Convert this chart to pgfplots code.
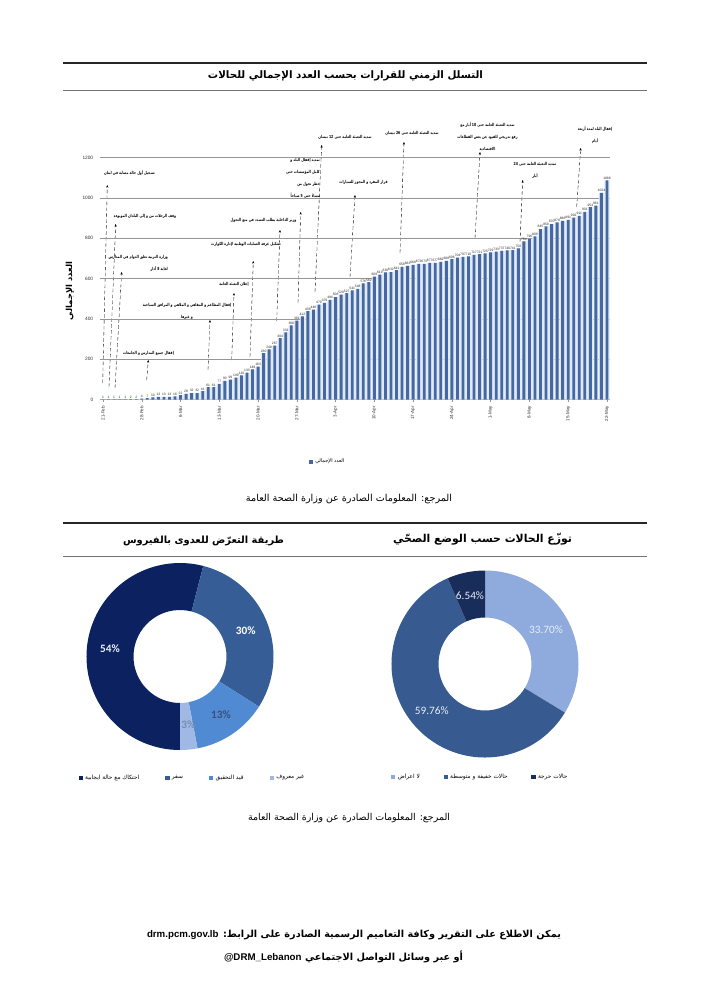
\documentclass[border=0pt]{standalone}
\usepackage{fontspec}
\setmainfont{Liberation Sans}
\newfontfamily\arabicfont[Script=Arabic]{DejaVu Sans}
\newfontfamily\carlito{Carlito}
\usepackage{graphicx}
\usepackage{pgfplots}
\usepackage{pgfplotstable}
\pgfplotsset{compat=1.18}
\usetikzlibrary{arrows.meta}
\TeXXeTstate=1

\definecolor{barblue}{RGB}{70,103,162}
\definecolor{barglow}{RGB}{222,235,247}
\definecolor{gridgray}{RGB}{150,150,150}
\definecolor{lA}{RGB}{12,33,95}
\definecolor{lB}{RGB}{55,93,150}
\definecolor{lC}{RGB}{80,138,210}
\definecolor{lD}{RGB}{160,185,228}
\definecolor{rA}{RGB}{143,170,220}
\definecolor{rB}{RGB}{55,90,145}
\definecolor{rC}{RGB}{25,45,90}
\definecolor{lbltxt}{RGB}{232,237,246}

\newcommand\AR[1]{{\arabicfont\beginR #1\endR}}
\newcommand\annfont{\arabicfont\bfseries\fontsize{3.5}{10.2}\selectfont}
\tikzset{ann/.style={font=\annfont, xscale=0.76, transform shape}}

% donut geometry
\def\Rout{78.836pt}
\def\Rin{39.2pt}
\def\rin{0.4973}
% #1 start angle, #2 cumulative share before the slice, #3 share, #4 colour
\newcommand\donutslice[4]{%
  \pgfmathsetmacro\aS{#1-3.6*(#2)}%
  \pgfmathsetmacro\aE{#1-3.6*(#2+#3)}%
  \pgfmathsetmacro\xS{cos(\aS)}\pgfmathsetmacro\yS{sin(\aS)}%
  \pgfmathsetmacro\xE{\rin*cos(\aE)}\pgfmathsetmacro\yE{\rin*sin(\aE)}%
  \edef\tmp{\noexpand\fill[#4] (axis cs:\xS,\yS) arc[start angle=\aS, end angle=\aE, radius=\Rout] -- (axis cs:\xE,\yE) arc[start angle=\aE, end angle=\aS, radius=\Rin] -- cycle;}\tmp}

\pgfplotstableread{
d v
1 1
2 1
3 1
4 1
5 1
6 2
7 2
8 4
9 7
10 10
11 13
12 13
13 13
14 16
15 22
16 28
17 32
18 32
19 41
20 61
21 61
22 77
23 93
24 99
25 109
26 120
27 133
28 149
29 163
30 230
31 248
32 267
33 304
34 333
35 368
36 391
37 412
38 438
39 446
40 470
41 479
42 494
43 508
44 520
45 527
46 541
47 548
48 576
49 582
50 609
51 619
52 630
53 632
54 641
55 658
56 663
57 668
58 672
59 673
60 677
61 677
62 682
63 688
64 696
65 704
66 707
67 710
68 717
69 721
70 725
71 729
72 733
73 737
74 740
75 741
76 750
77 784
78 796
79 809
80 845
81 859
82 870
83 878
84 886
85 891
86 902
87 911
88 931
89 954
90 961
91 1024
92 1086
}\cases

\begin{document}
\begin{tikzpicture}
\begin{scope}[x=0.84317pt,y=-0.84317pt]
  \fill[white] (0,0) rectangle (706,999);
  \useasboundingbox (0,0) rectangle (706,999);
  \coordinate (barSW) at (99.7,399.5);
  \coordinate (ldSW) at (86.5,750);
  \coordinate (rdSW) at (391.5,757.5);
  % page rules
  \draw[line width=1.3pt, black!85] (63,63) -- (647,63);
  \draw[line width=0.5pt, black!55] (63,90) -- (647,90);
  \draw[line width=1.3pt, black!85] (63,523) -- (647,523);
  \draw[line width=0.5pt, black!55] (63,556) -- (647,556);
  % titles
  \node at (345.5,76) {\resizebox{231.9pt}{!}{\AR{\bfseries التسلل الزمني للقرارات بحسب العدد الإجمالي للحالات}}};
  \node at (349,499) {\resizebox{173.7pt}{!}{\AR{المرجع: المعلومات الصادرة عن وزارة الصحة العامة}}};
  \node at (482.5,539) {\resizebox{150.9pt}{!}{\AR{\bfseries توزّع الحالات حسب الوضع الصحّي}}};
  \node at (203.5,541) {\resizebox{135.7pt}{!}{\AR{\bfseries طريقة التعرّض للعدوى بالفيروس}}};
  \node at (349,818) {\resizebox{170.3pt}{!}{\AR{المرجع: المعلومات الصادرة عن وزارة الصحة العامة}}};
  \node at (354,935) {\resizebox{349pt}{!}{\AR{\bfseries يمكن الاطلاع على التقرير وكافة التعاميم الرسمية الصادرة على الرابط: \beginL{\normalfont\bfseries drm.pcm.gov.lb}\endL}}};
  \node at (343.5,957) {\resizebox{201.5pt}{!}{\AR{\bfseries أو عبر وسائل التواصل الاجتماعي \beginL{\normalfont\bfseries @DRM\_Lebanon}\endL}}};
  % y axis title
  \node[rotate=90] at (70,291) {\resizebox{49pt}{!}{\AR{\bfseries العدد الإجمالي}}};
  % annotations
  \node[ann] at (129.5,173) {\AR{تسجيل أول حالة مصابة في لبنان}};
  \node[ann] at (145,216) {\AR{وقف الرحلات من و إلى البلدان الموبوءة}};
  \node[ann, align=right, anchor=north east, inner sep=0pt] at (168,255) {\AR{وزارة التربية تعلق الدوام في المدارس}\\\AR{لغاية 8 آذار}};
  \node[ann] at (148.5,353) {\AR{إقفال جميع المدارس و الجامعات}};
  \node[ann, align=center] at (187,311) {\AR{إقفال المطاعم و المقاهي و الملاهي و المرافق السياحية}\\\AR{و غيرها}};
  \node[ann] at (234,284) {\AR{إعلان التعبئة العامة}};
  \node[ann] at (246,244) {\AR{تشكيل غرفة العمليات الوطنية لإدارة الكوارث}};
  \node[ann] at (263.5,220.7) {\AR{وزير الداخلية يطلب التشدد في منع التجول}};
  \node[ann, align=right, anchor=north east, inner sep=0pt] at (320,158) {\AR{تمديد إقفال البلد و}\\\AR{كامل المؤسسات حتى}\\\AR{حظر تجول من}\\\AR{مساءً حتى 5 صباحاً}};
  \node[ann] at (345,137) {\AR{تمديد التعبئة العامة حتى 12 نيسان}};
  \node[ann] at (363.5,182) {\AR{قرار المفرد و المجوز للسيارات}};
  \node[ann] at (412,133) {\AR{تمديد التعبئة العامة حتى 26 نيسان}};
  \node[ann, align=center, anchor=north, inner sep=0pt] at (487.5,122) {\AR{تمديد التعبئة العامة حتى 10 أيار مع}\\\AR{رفع تدريجي للقيود عن بعض القطاعات}\\\AR{الاقتصادية}};
  \node[ann, align=center, anchor=north, inner sep=0pt] at (535,162) {\AR{تمديد التعبئة العامة حتى 24}\\\AR{أيار}};
  \node[ann, align=center, anchor=north, inner sep=0pt] at (595,126) {\AR{إقفال البلد لمدة أربعة}\\\AR{أيام}};
  \begin{scope}[densely dashed, line width=0.3pt, -{Stealth[length=2.2pt,width=1.8pt]}]
    \draw (102.7,383) -- (107.3,185);
    \draw (109,387) -- (115.7,224);
    \draw (115,388) -- (121.7,272);
    \draw (146.7,380) -- (148.3,360);
    \draw (208,370) -- (210,320);
    \draw (231.7,360) -- (234,293);
    \draw (250,357) -- (253.3,261);
    \draw (276.7,321) -- (280,230);
    \draw (298,303) -- (300.7,212);
    \draw (315,292) -- (321.7,145);
    \draw (350,277) -- (355,195);
    \draw (400,253) -- (404,142);
    \draw (475,238) -- (480,152);
    \draw (520,242) -- (522.7,180);
    \draw (576.7,207) -- (580.7,148);
  \end{scope}
\end{scope}

% ---------------- bar chart ----------------
\begin{axis}[
  at={(barSW)}, anchor=south west, scale only axis,
  width=430.5pt, height=204.05pt,
  xmin=0.4, xmax=92.6, ymin=0, ymax=1200,
  axis x line*=bottom, axis y line*=left,
  y axis line style={draw=none},
  x axis line style={draw=gridgray, line width=0.4pt},
  ytick={0,200,...,1200},
  ymajorgrids, major grid style={draw=gridgray, line width=0.45pt},
  ytick style={draw=none},
  xtick={1,8,...,92},
  xticklabels={21-Feb,28-Feb,6-Mar,13-Mar,20-Mar,27-Mar,3-Apr,10-Apr,17-Apr,24-Apr,1-May,8-May,15-May,22-May},
  xtick style={draw=gridgray, line width=0.4pt}, tick align=outside, major tick length=2pt,
  /pgf/number format/assume math mode=true,
  /pgf/number format/1000 sep={},
  yticklabel style={font=\fontsize{4}{4}\selectfont, text=black!80},
  xticklabel style={font=\fontsize{3.8}{4}\selectfont, rotate=90, anchor=east, text=black!80},
  legend style={at={(axis description cs:0.447,-0.258)}, anchor=center, draw=none, fill=none, font=\fontsize{4.2}{5}\selectfont},
  legend image code/.code={\fill[#1] (0pt,-1.6pt) rectangle (3.2pt,1.6pt);},
  clip=false,
]
\addplot[ybar, bar width=4.4pt, bar shift=0pt, fill=barglow, draw=none, forget plot] table[x=d,y=v]{\cases};
\addplot[ybar, bar width=2.4pt, bar shift=0pt, fill=barblue, draw=none,
  nodes near coords, every node near coord/.append style={font=\fontsize{2.8}{2.8}\selectfont, text=black!85, inner sep=0.7pt}] table[x=d,y=v]{\cases};
\addlegendentry{\AR{العدد الإجمالي}}
\end{axis}

% ---------------- left donut ----------------
\begin{axis}[
  at={(ldSW)}, anchor=south west, scale only axis,
  width=157.67pt, height=157.67pt,
  xmin=-1, xmax=1, ymin=-1, ymax=1, hide axis, clip=false,
  legend columns=4,
  legend style={at={(axis description cs:0.567,-0.148)}, anchor=center, draw=none, fill=none,
    font=\fontsize{4.9}{5}\selectfont, /tikz/every even column/.append style={column sep=20pt}},
  legend image code/.code={\fill[#1] (0pt,-1.8pt) rectangle (3.6pt,1.8pt);},
]
\addlegendimage{fill=lA, draw=none}\addlegendentry{\AR{احتكاك مع حالة ايجابية}}
\addlegendimage{fill=lB, draw=none}\addlegendentry{\AR{سفر}}
\addlegendimage{fill=lC, draw=none}\addlegendentry{\AR{قيد التحقيق}}
\addlegendimage{fill=lD, draw=none}\addlegendentry{\AR{غير معروف}}
\donutslice{-90}{0}{54}{lA}
\donutslice{-90}{54}{30}{lB}
\donutslice{-90}{84}{13}{lC}
\donutslice{-90}{97}{3}{lD}
\end{axis}

% ---------------- right donut ----------------
\begin{axis}[
  at={(rdSW)}, anchor=south west, scale only axis,
  width=157.67pt, height=157.67pt,
  xmin=-1, xmax=1, ymin=-1, ymax=1, hide axis, clip=false,
  legend columns=3,
  legend style={at={(axis description cs:0.476,-0.103)}, anchor=center, draw=none, fill=none,
    font=\fontsize{4.9}{5}\selectfont, /tikz/every even column/.append style={column sep=18pt}},
  legend image code/.code={\fill[#1] (0pt,-1.8pt) rectangle (3.6pt,1.8pt);},
]
\addlegendimage{fill=rA, draw=none}\addlegendentry{\AR{لا اعراض}}
\addlegendimage{fill=rB, draw=none}\addlegendentry{\AR{حالات خفيفة و متوسطة}}
\addlegendimage{fill=rC, draw=none}\addlegendentry{\AR{حالات حرجة}}
\donutslice{90}{0}{33.70}{rA}
\donutslice{90}{33.70}{59.76}{rB}
\donutslice{90}{93.46}{6.54}{rC}
\end{axis}

% donut labels, on top of the slices
\begin{scope}[x=0.84317pt,y=-0.84317pt]
  \node[font=\carlito\bfseries\fontsize{9.5}{10}\selectfont, text=lbltxt] at (110,648.3) {54\%};
  \node[font=\carlito\bfseries\fontsize{9.5}{10}\selectfont, text=white] at (245.7,631) {30\%};
  \node[font=\carlito\bfseries\fontsize{9.5}{10}\selectfont, text=lA!80] at (221,715) {13\%};
  \node[font=\carlito\bfseries\fontsize{9.5}{10}\selectfont, text=lB!70] at (188.3,725) {3\%};
  \node[font=\carlito\fontsize{9.5}{10}\selectfont, text=lbltxt] at (470,595.7) {6.54\%};
  \node[font=\carlito\fontsize{9.5}{10}\selectfont, text=lbltxt] at (546,630) {33.70\%};
  \node[font=\carlito\fontsize{9.5}{10}\selectfont, text=lbltxt] at (431.7,711) {59.76\%};
\end{scope}
\end{tikzpicture}
\end{document}
